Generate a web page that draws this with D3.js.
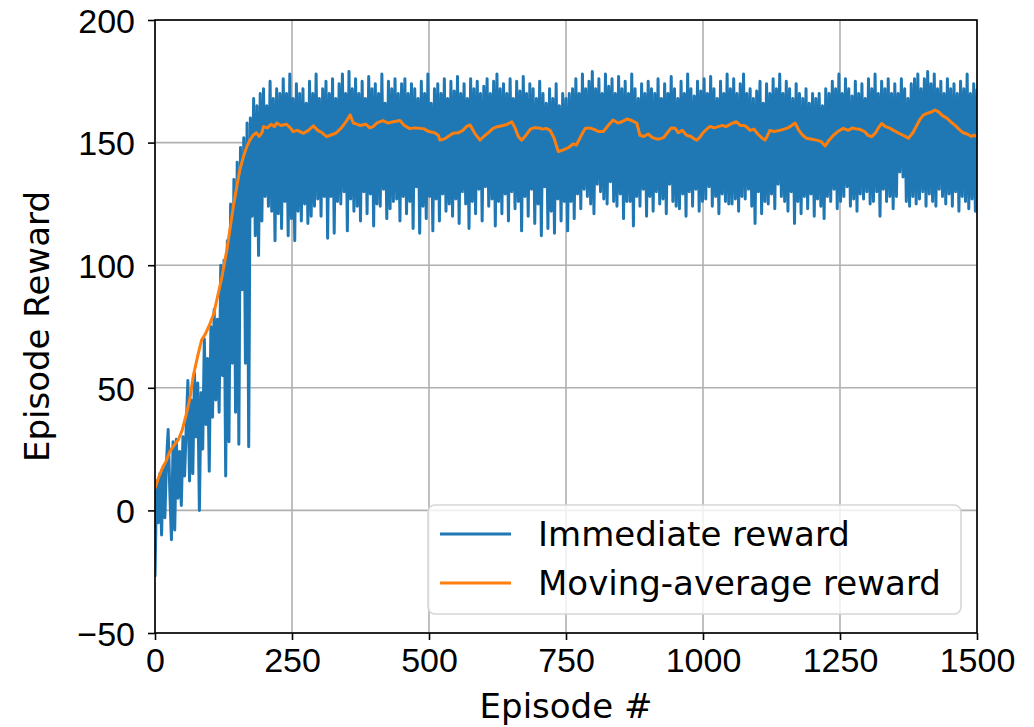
<!DOCTYPE html>
<html lang="en">
<head>
<meta charset="utf-8">
<title>Episode Reward</title>
<style>
  body {margin: 0; background: #fff;}
  svg  {display: block; font-family: "DejaVu Sans", sans-serif;}
  .grid line {stroke: #b0b0b0; stroke-width: 1.6;}
  .tick text {font-size: 34px; fill: #000;}
</style>
</head>
<body>

<svg id="chart" width="1034" height="727"></svg>

<script src="https://d3js.org/d3.v7.min.js"></script>
<script>
// immediate reward, one value every 3 episodes (0, 3, 6, ... 1500)
const episodeStep = 3;
const immediate = [
  -27,12,-5,15,-10,18,-3,20,33,8,-12,28,-8,29,5,24,2,30,14,34,
  53,12,45,15,56,30,52,0,48,25,70,35,62,16,75,38,
  82,45,78,40,100,55,102,14,110,28,125,60,135,40,142,27,148,90,152,60,158,26,160,120,168,
  112,165,104,170,118,172,128,165,124,175,122,168,110,172,121,170,115,176,126,170,
  112,178,119,168,110,174,122,170,118,172,125,166,117,175,120,170,124,178,127,168,
  120,172,128,175,111,170,128,176,113,168,126,174,125,178,130,170,114,179,127,172,
  122,176,124,170,118,175,130,168,121,177,129,172,116,174,125,170,124,178,131,166,
  119,175,123,172,126,176,127,170,118,174,
  128,176,121,170,126,174,115,172,132,168,113,175,124,170,119,178,128,166,114,172,
  127,174,118,170,129,176,122,168,125,175,120,171,127,177,117,170,130,174,125,168,
  115,176,126,172,121,175,131,170,118,173,
  132,176,124,170,127,175,116,178,126,172,121,174,129,170,118,176,130,168,123,175,
  126,171,114,177,128,170,120,174,131,172,117,168,125,175,112,170,132,166,115,172,
  122,168,113,174,127,165,118,170,126,168,
  114,170,126,172,119,176,129,170,123,178,131,172,128,175,125,179,121,172,133,176,
  130,170,127,178,125,173,134,176,126,170,124,177,129,172,119,175,126,170,126,178,
  116,172,128,168,124,174,131,170,120,175,
  128,172,122,170,130,176,125,168,127,174,121,170,133,177,126,172,124,168,123,175,
  129,170,120,178,130,172,124,169,131,175,122,171,126,176,127,170,132,177,124,172,
  128,168,121,175,129,170,126,178,125,172,
  125,176,127,170,122,174,128,178,127,170,131,172,124,168,117,171,130,175,121,166,
  126,174,125,170,129,176,123,172,133,178,128,170,126,175,122,172,130,168,117,174,
  126,170,121,168,128,172,123,166,129,170,
  120,168,127,170,124,165,119,172,128,170,126,175,131,172,123,178,126,170,128,176,
  132,172,124,169,127,175,122,170,129,174,127,168,130,176,125,172,126,178,130,170,
  120,175,131,172,126,176,128,170,123,174,
  128,170,138,176,136,172,126,168,124,174,128,176,125,178,127,172,130,176,124,179,
  129,174,126,178,124,172,131,175,128,170,125,176,129,172,124,174,130,170,122,175,
  128,172,126,178,123,170,127,174,122,172
];

// moving-average reward
const maEpisodes = [
  0,6,12,20,27,33,43,50,58,64,70,78,85,92,100,107,113,118,122,126,131,137,143,150,155,161,167,173,179,185,
  190,195,198,205,212,218,222,230,240,247,252,260,271,280,289,297,305,313,320,331,340,350,356,362,368,374,385,392,398,405,
  416,425,435,447,455,465,475,484,490,500,510,517,520,528,535,544,553,562,568,575,583,593,600,608,617,625,635,643,651,657,
  663,669,677,685,693,700,707,714,721,728,736,745,755,763,769,778,785,793,800,810,818,827,836,845,852,861,870,879,885,892,
  900,908,915,921,928,935,942,949,955,962,970,978,984,989,995,1000,1007,1013,1020,1028,1035,1042,1050,1055,1061,1068,1075,1079,1086,1093,
  1100,1107,1113,1118,1122,1130,1140,1148,1155,1162,1168,1175,1182,1189,1196,1207,1215,1223,1230,1238,1246,1256,1265,1273,1280,1286,1295,1301,1308,1315,
  1320,1326,1333,1340,1348,1356,1365,1375,1383,1390,1396,1402,1410,1417,1423,1430,1437,1445,1452,1460,1467,1475,1482,1490,1495,1500
];
const maValues = [
  9,13,16.5,20,24,26,29,33,40,46,55,63,69.5,72,76,80,86,91,95,100,106,115,124,133,139,144,148,151,153,154,
  152.5,154,156.5,156,157.5,156.5,158,157,157.5,156,154.5,155,153.8,155,156.8,155,154,152.4,153,154,156,159,161.3,158,157.5,157,157.5,156,156.5,158,
  159,158,158.5,159,157,155.7,156,155.8,155.7,154.5,154,153,151,151.5,152.5,153.8,154,155,156.5,157.2,154,151,152.5,154,155.8,156.5,157,157.5,158.5,156,
  152.5,151,153,155.5,156.1,156,155.5,155.8,155,152,146.3,147,148,149.5,149,153,155.8,156,155.5,154.5,154.5,157,159.2,158,158.5,159.6,159,158,153,152.5,
  153.5,152,151.5,151.5,152,154,156,155.9,154,155,153,152.5,151.5,151,152.4,154,155.5,156.6,156,156.5,157,156.5,157.5,158,158.5,157,157,156.5,155,155.5,
  153.5,152,151,153,155,154.5,155,155.5,156,157,158,155,153,151.8,151.5,151,150.5,148.6,151,153,154.5,155.8,155,156,155.5,155.4,154.5,153,152.4,154,
  156,157.8,156.5,156,155,154,153,151.8,154,157,159.5,161.2,162,162.5,163.3,162.5,161,160,158.5,157,155.5,154,153.5,152.5,153,152.4
];

const xTicks = [0, 250, 500, 750, 1000, 1250, 1500];
const yTicks = [-50, 0, 50, 100, 150, 200];
const legendLabels = ["Immediate reward", "Moving-average reward"];
const colors = ["#1f77b4", "#ff7f0e"];

const svg = d3.select("#chart");
const margin = {top: 20, right: 57, bottom: 94, left: 155};
const W = 1034, H = 727;
const iw = W - margin.left - margin.right;
const ih = H - margin.top - margin.bottom;

const x = d3.scaleLinear().domain([0, 1500]).range([0, iw]);
const y = d3.scaleLinear().domain([-50, 200]).range([ih, 0]);

const g = svg.append("g").attr("transform", `translate(${margin.left},${margin.top})`);

// grid
g.append("g").attr("class", "grid")
  .selectAll("line.gx").data(xTicks).join("line")
  .attr("x1", d => x(d)).attr("x2", d => x(d)).attr("y1", 0).attr("y2", ih);
g.append("g").attr("class", "grid")
  .selectAll("line.gy").data(yTicks).join("line")
  .attr("x1", 0).attr("x2", iw).attr("y1", d => y(d)).attr("y2", d => y(d));

svg.append("defs").append("clipPath").attr("id", "clip")
  .append("rect").attr("width", iw).attr("height", ih);

const plot = g.append("g").attr("clip-path", "url(#clip)");

const line = d3.line().x(d => x(d[0])).y(d => y(d[1]));

plot.append("path")
  .datum(immediate.map((v, i) => [i * episodeStep, v]))
  .attr("d", line)
  .attr("fill", "none")
  .attr("stroke", colors[0])
  .attr("stroke-width", 3)
  .attr("stroke-linejoin", "round");

plot.append("path")
  .datum(maEpisodes.map((e, i) => [e, maValues[i]]))
  .attr("d", line)
  .attr("fill", "none")
  .attr("stroke", colors[1])
  .attr("stroke-width", 3)
  .attr("stroke-linejoin", "round");

// axes
const fmt = d => (d < 0 ? "\u2212" + Math.abs(d) : String(d));
const xAxis = g.append("g").attr("transform", `translate(0,${ih})`)
  .call(d3.axisBottom(x).tickValues(xTicks).tickFormat(fmt).tickSize(7).tickPadding(8));
const yAxis = g.append("g")
  .call(d3.axisLeft(y).tickValues(yTicks).tickFormat(fmt).tickSize(7).tickPadding(13));
[xAxis, yAxis].forEach(a => {
  a.select(".domain").remove();
  a.selectAll(".tick line").attr("stroke", "#000").attr("stroke-width", 1.6);
});
yAxis.selectAll(".tick text").attr("dy", "0.36em");

// frame
g.append("rect").attr("width", iw).attr("height", ih)
  .attr("fill", "none").attr("stroke", "#000").attr("stroke-width", 1.6);

// axis labels
svg.append("text")
  .attr("x", margin.left + iw / 2).attr("y", 718)
  .attr("text-anchor", "middle").attr("font-size", 34)
  .text("Episode #");
svg.append("text")
  .attr("transform", `translate(49,${margin.top + ih / 2}) rotate(-90)`)
  .attr("text-anchor", "middle").attr("font-size", 34)
  .text("Episode Reward");

// legend
const leg = svg.append("g").attr("transform", "translate(428,505)");
leg.append("rect")
  .attr("width", 533).attr("height", 109).attr("rx", 7)
  .attr("fill", "#fff").attr("fill-opacity", 0.8)
  .attr("stroke", "#d6d6d6").attr("stroke-width", 1.6);
legendLabels.forEach((lab, i) => {
  const cy = 29 + i * 49;
  leg.append("line")
    .attr("x1", 12).attr("x2", 83).attr("y1", cy).attr("y2", cy)
    .attr("stroke", colors[i]).attr("stroke-width", 3);
  leg.append("text")
    .attr("x", 110).attr("y", cy + 12)
    .attr("font-size", 34)
    .text(lab);
});
</script>

</body>
</html>
